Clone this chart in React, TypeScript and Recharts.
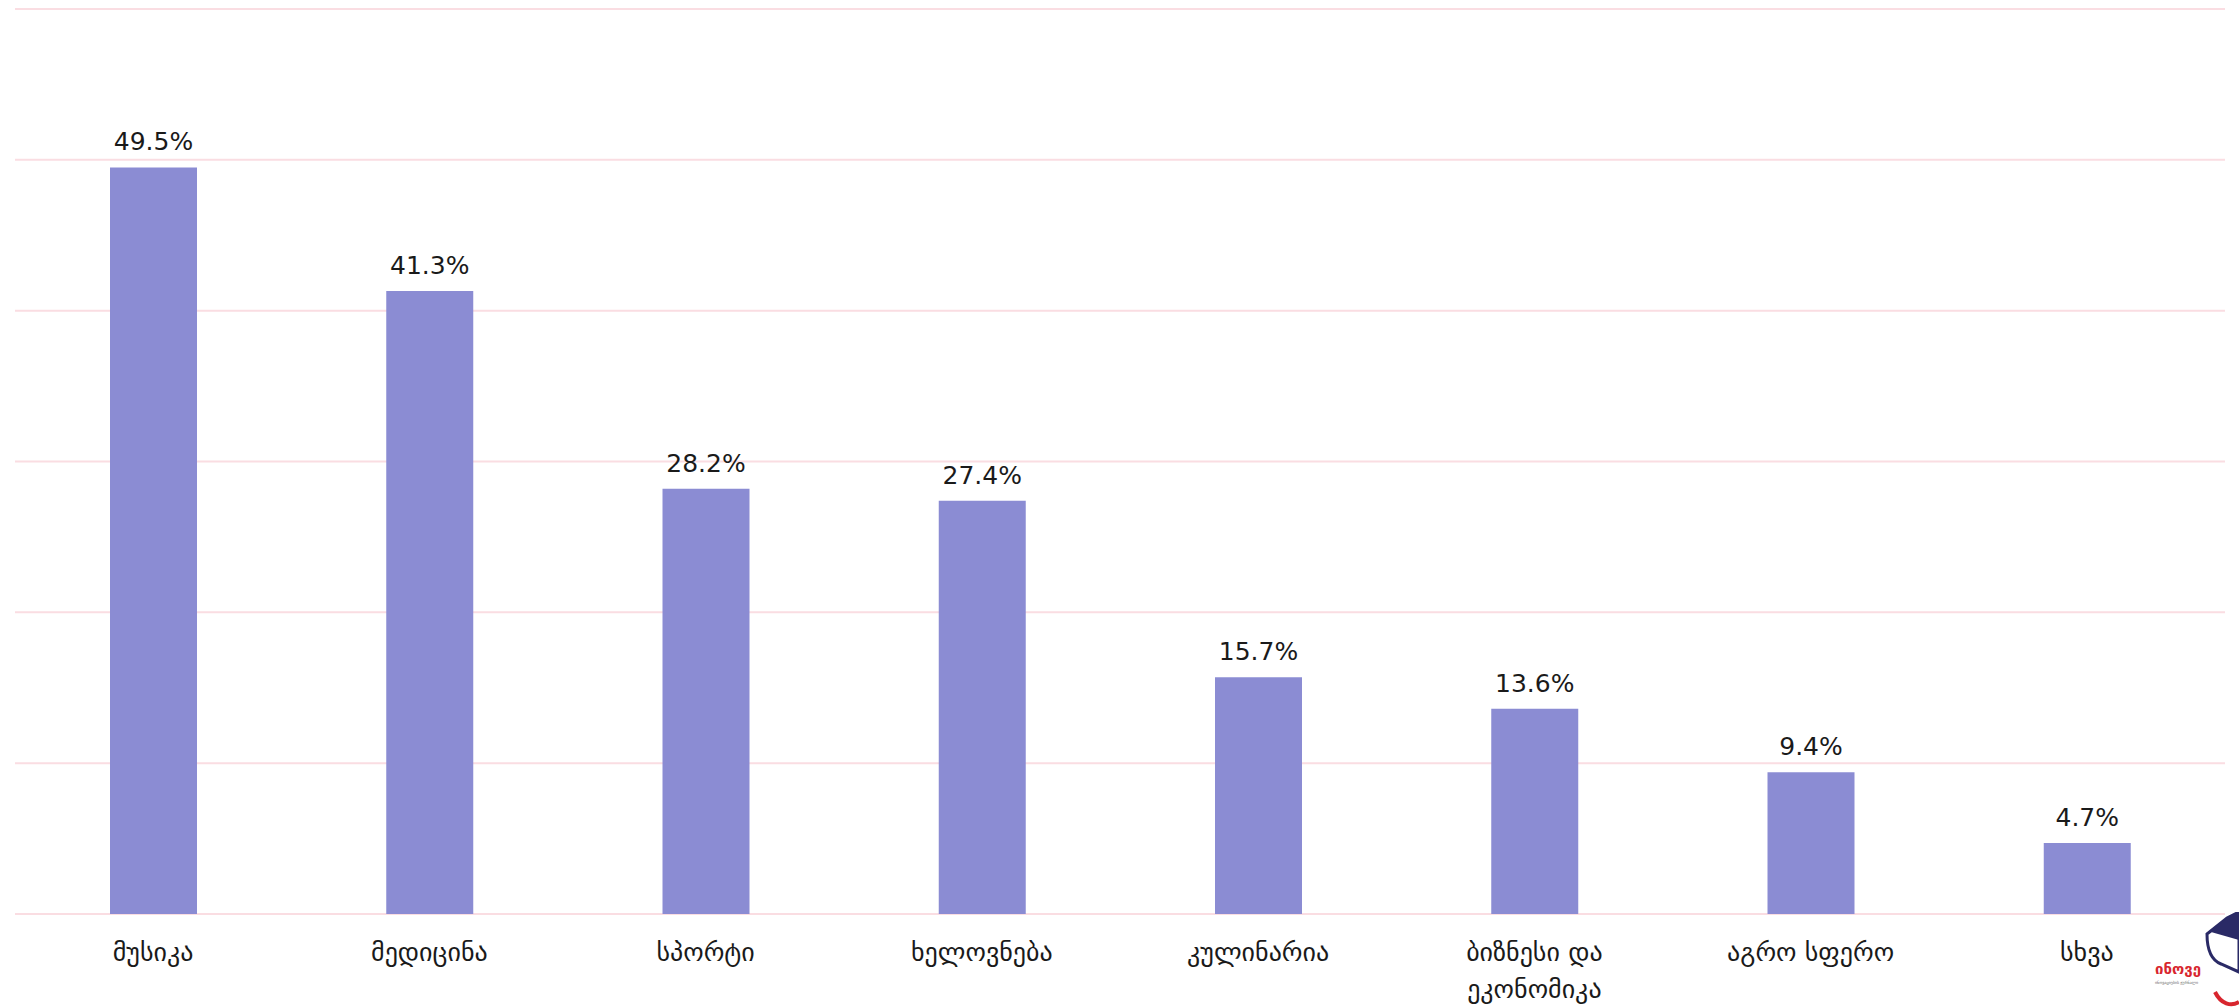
import React from 'react';
import { BarChart, Bar, XAxis, YAxis, CartesianGrid, LabelList } from 'recharts';

const categories = ['მუსიკა', 'მედიცინა', 'სპორტი', 'ხელოვნება', 'კულინარია', 'ბიზნესი და ეკონომიკა', 'აგრო სფერო', 'სხვა'];
const shares = [49.5, 41.3, 28.2, 27.4, 15.7, 13.6, 9.4, 4.7];
const yTicks = [0, 10, 20, 30, 40, 50, 60];

const data = categories.map((name, i) => ({ name, value: shares[i] }));

const FONT = "'DejaVu Sans', sans-serif";

// long labels break at the last space, like the original
const splitLabel = (s: string) => {
  if (s.length < 14 || s.indexOf(' ') < 0) return [s];
  const k = s.lastIndexOf(' ');
  return [s.slice(0, k), s.slice(k + 1)];
};

const CategoryTick = ({ x, y, payload }: any) => {
  const lines = splitLabel(payload.value);
  return (
    <g>
      {lines.map((line, i) => (
        <text
          key={i}
          x={x}
          y={y + 39 + i * 37}
          textAnchor="middle"
          fill="#1a1a1a"
          fontSize={26}
          fontFamily={FONT}
        >
          {line}
        </text>
      ))}
    </g>
  );
};

const Logo = () => (
  <svg width={90} height={95} style={{ position: 'absolute', left: 2149, top: 912 }}>
    <path d="M58 22 L78 6 L90 0 L90 60 L72 52 C62 48 58 38 58 22 Z" fill="none" stroke="#2a2a66" strokeWidth={3} />
    <path d="M62 20 L80 4 L90 0 L90 28 Z" fill="#2a2a66" />
    <text x={6} y={62} fill="#d8262e" fontSize={15} fontWeight="bold" fontFamily={FONT}>ინოვე</text>
    <text x={6} y={72} fill="#666" fontSize={4} fontFamily={FONT}>ინოვაციების ჟურნალი</text>
    <path d="M66 80 C72 92 82 95 90 90" fill="none" stroke="#d8262e" strokeWidth={4} />
  </svg>
);

export default function App() {
  return (
    <div style={{ position: 'absolute', left: 0, top: 0, width: 2239, height: 1007, background: '#fff' }}>
      <BarChart
        width={2239}
        height={1007}
        data={data}
        margin={{ top: 9, right: 14, left: 15, bottom: 0 }}
      >
        <CartesianGrid vertical={false} stroke="#fadde2" strokeWidth={2} />
        <XAxis
          dataKey="name"
          height={93}
          axisLine={false}
          tickLine={false}
          interval={0}
          tick={<CategoryTick />}
        />
        <YAxis hide domain={[0, 60]} ticks={yTicks} />
        <Bar dataKey="value" fill="#8b8cd3" barSize={87} isAnimationActive={false}>
          <LabelList
            dataKey="value"
            position="top"
            offset={17}
            formatter={(v: any) => `${v}%`}
            fill="#1a1a1a"
            fontSize={25}
            fontFamily={FONT}
          />
        </Bar>
      </BarChart>
      <Logo />
    </div>
  );
}
